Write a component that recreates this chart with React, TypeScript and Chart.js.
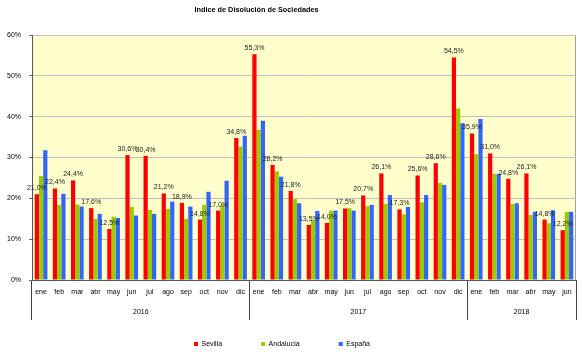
import React, { useEffect, useRef } from 'react';
import { Chart, registerables } from 'chart.js';

Chart.register(...registerables);

const FONT = 'Liberation Sans';

const chartTitle = 'Indice de Disolución de Sociedades';
const months = ['ene', 'feb', 'mar', 'abr', 'may', 'jun', 'jul', 'ago', 'sep', 'oct', 'nov', 'dic'];
const years = ['2016', '2017', '2018'];
const yearCounts = [12, 12, 6];
const categories = years.flatMap((_, i) => months.slice(0, yearCounts[i]));

const sevilla = [21.0, 22.4, 24.4, 17.6, 12.5, 30.6, 30.4, 21.2, 18.9, 14.8, 17.0, 34.8,
  55.3, 28.2, 21.8, 13.5, 14.0, 17.5, 20.7, 26.1, 17.3, 25.6, 28.6, 54.5,
  35.9, 31.0, 24.8, 26.1, 14.8, 12.2];
const andalucia = [25.5, 18.4, 18.5, 15.0, 15.5, 17.9, 17.2, 17.4, 15.0, 18.4, 18.4, 32.7,
  36.8, 26.6, 19.8, 14.7, 17.0, 17.6, 18.1, 18.6, 16.1, 19.0, 23.8, 42.0,
  30.8, 26.0, 18.6, 15.9, 13.9, 16.7];
const espana = [31.8, 21.1, 18.0, 16.2, 15.2, 15.8, 16.2, 19.2, 18.0, 21.6, 24.3, 35.3,
  39.0, 25.3, 18.8, 16.9, 17.0, 17.0, 18.4, 20.8, 17.9, 20.8, 23.3, 38.4,
  39.4, 26.0, 18.8, 16.7, 17.1, 16.7];

const yMin = 0;
const yMax = 60;
const yStep = 10;

const seriesNames = ['Sevilla', 'Andalucía', 'España'];
const seriesColors = ['#FF0000', '#99CC00', '#3366FF'];

// year label centres (category index units)
const yearStarts = yearCounts.map((_, i) => yearCounts.slice(0, i).reduce((a, b) => a + b, 0));
const yearCenters = yearStarts.map((s, i) => s + yearCounts[i] / 2);

const bgPlugin = {
  id: 'bgPlugin',
  beforeDraw(chart: any) {
    const { ctx, chartArea: a } = chart;
    ctx.save();
    ctx.fillStyle = '#FFFFCC';
    ctx.fillRect(a.left, a.top, a.width, a.height);
    ctx.strokeStyle = '#a0a0a0';
    ctx.lineWidth = 1;
    ctx.beginPath();
    ctx.moveTo(Math.round(a.right) - 0.5, a.top);
    ctx.lineTo(Math.round(a.right) - 0.5, a.bottom);
    ctx.stroke();
    ctx.restore();
  },
  afterDraw(chart: any) {
    const { ctx } = chart;
    ctx.save();
    ctx.font = `bold 7.3px "${FONT}"`;
    ctx.fillStyle = '#000';
    ctx.textAlign = 'center';
    ctx.textBaseline = 'middle';
    ctx.fillText(chartTitle, 256.5, 9.5);
    ctx.restore();
  },
};

const labelPlugin = {
  id: 'labelPlugin',
  afterDatasetsDraw(chart: any) {
    const { ctx } = chart;
    const meta = chart.getDatasetMeta(0);
    ctx.save();
    ctx.font = `7px "${FONT}"`;
    ctx.fillStyle = '#222';
    ctx.textAlign = 'center';
    ctx.textBaseline = 'middle';
    meta.data.forEach((bar: any, i: number) => {
      const v = sevilla[i];
      ctx.fillText(v.toFixed(1).replace('.', ',') + '%', bar.x, bar.y - 6);
    });
    ctx.restore();
  },
};

export default function App() {
  const ref = useRef<HTMLCanvasElement | null>(null);

  useEffect(() => {
    if (!ref.current) return;
    Chart.defaults.font.family = FONT;
    Chart.defaults.font.size = 7;
    Chart.defaults.color = '#000';

    const datasets = [sevilla, andalucia, espana].map((d, i) => ({
      label: seriesNames[i],
      data: d,
      backgroundColor: seriesColors[i],
      borderWidth: 0,
      categoryPercentage: 0.7,
      barPercentage: 1.0,
      xAxisID: 'x',
      yAxisID: 'y',
    }));

    const chart = new Chart(ref.current, {
      type: 'bar',
      data: { labels: categories, datasets },
      plugins: [bgPlugin, labelPlugin],
      options: {
        animation: false,
        responsive: false,
        devicePixelRatio: 1,
        layout: { padding: { left: -12, right: 6, top: 35, bottom: -3.5 } },
        plugins: {
          title: { display: false },
          legend: {
            display: true,
            position: 'bottom',
            labels: {
              boxWidth: 4,
              boxHeight: 4,
              padding: 39,
              font: { family: FONT, size: 7 },
              color: '#000',
            },
          },
          tooltip: { enabled: false },
        },
        scales: {
          x: {
            type: 'category',
            position: 'bottom',
            offset: true,
            grid: {
              display: true,
              offset: true,
              drawOnChartArea: false,
              drawTicks: true,
              tickLength: 40,
              color: (ctx: any) =>
                ctx.index === undefined || ctx.index % 12 === 0 ? '#444' : 'rgba(0,0,0,0)',
            },
            border: { display: true, color: '#555' },
            ticks: {
              autoSkip: false,
              maxRotation: 0,
              padding: -32.5,
              font: { family: FONT, size: 7 },
              color: '#000',
            },
            afterFit: (s: any) => {
              s.height = 21.5;
            },
          },
          x2: {
            type: 'linear',
            position: 'bottom',
            min: 0,
            max: categories.length,
            offset: false,
            grid: { display: false },
            border: { display: false },
            afterBuildTicks: (s: any) => {
              s.ticks = yearCenters.map((v) => ({ value: v }));
            },
            ticks: {
              autoSkip: false,
              maxRotation: 0,
              mirror: true,
              padding: -14.4,
              font: { family: FONT, size: 7 },
              color: '#000',
              callback: (_v: any, i: number) => years[i],
            },
            afterFit: (s: any) => {
              s.height = 0;
            },
          },
          y: {
            type: 'linear',
            min: yMin,
            max: yMax,
            position: 'left',
            grid: {
              color: '#c0c0c0',
              tickColor: '#666',
              tickLength: 3,
              drawTicks: true,
            },
            border: { display: true, color: '#555' },
            ticks: {
              stepSize: yStep,
              padding: 8,
              font: { family: FONT, size: 7 },
              color: '#000',
              callback: (v: any) => v + '%',
            },
            afterFit: (s: any) => {
              s.width = 44;
            },
          },
        },
      } as any,
    });
    return () => chart.destroy();
  }, []);

  return (
    <div style={{ position: 'fixed', left: 0, top: 0, width: 582, height: 354, background: '#fff' }}>
      <canvas ref={ref} width={582} height={354} style={{ display: 'block' }} />
    </div>
  );
}
